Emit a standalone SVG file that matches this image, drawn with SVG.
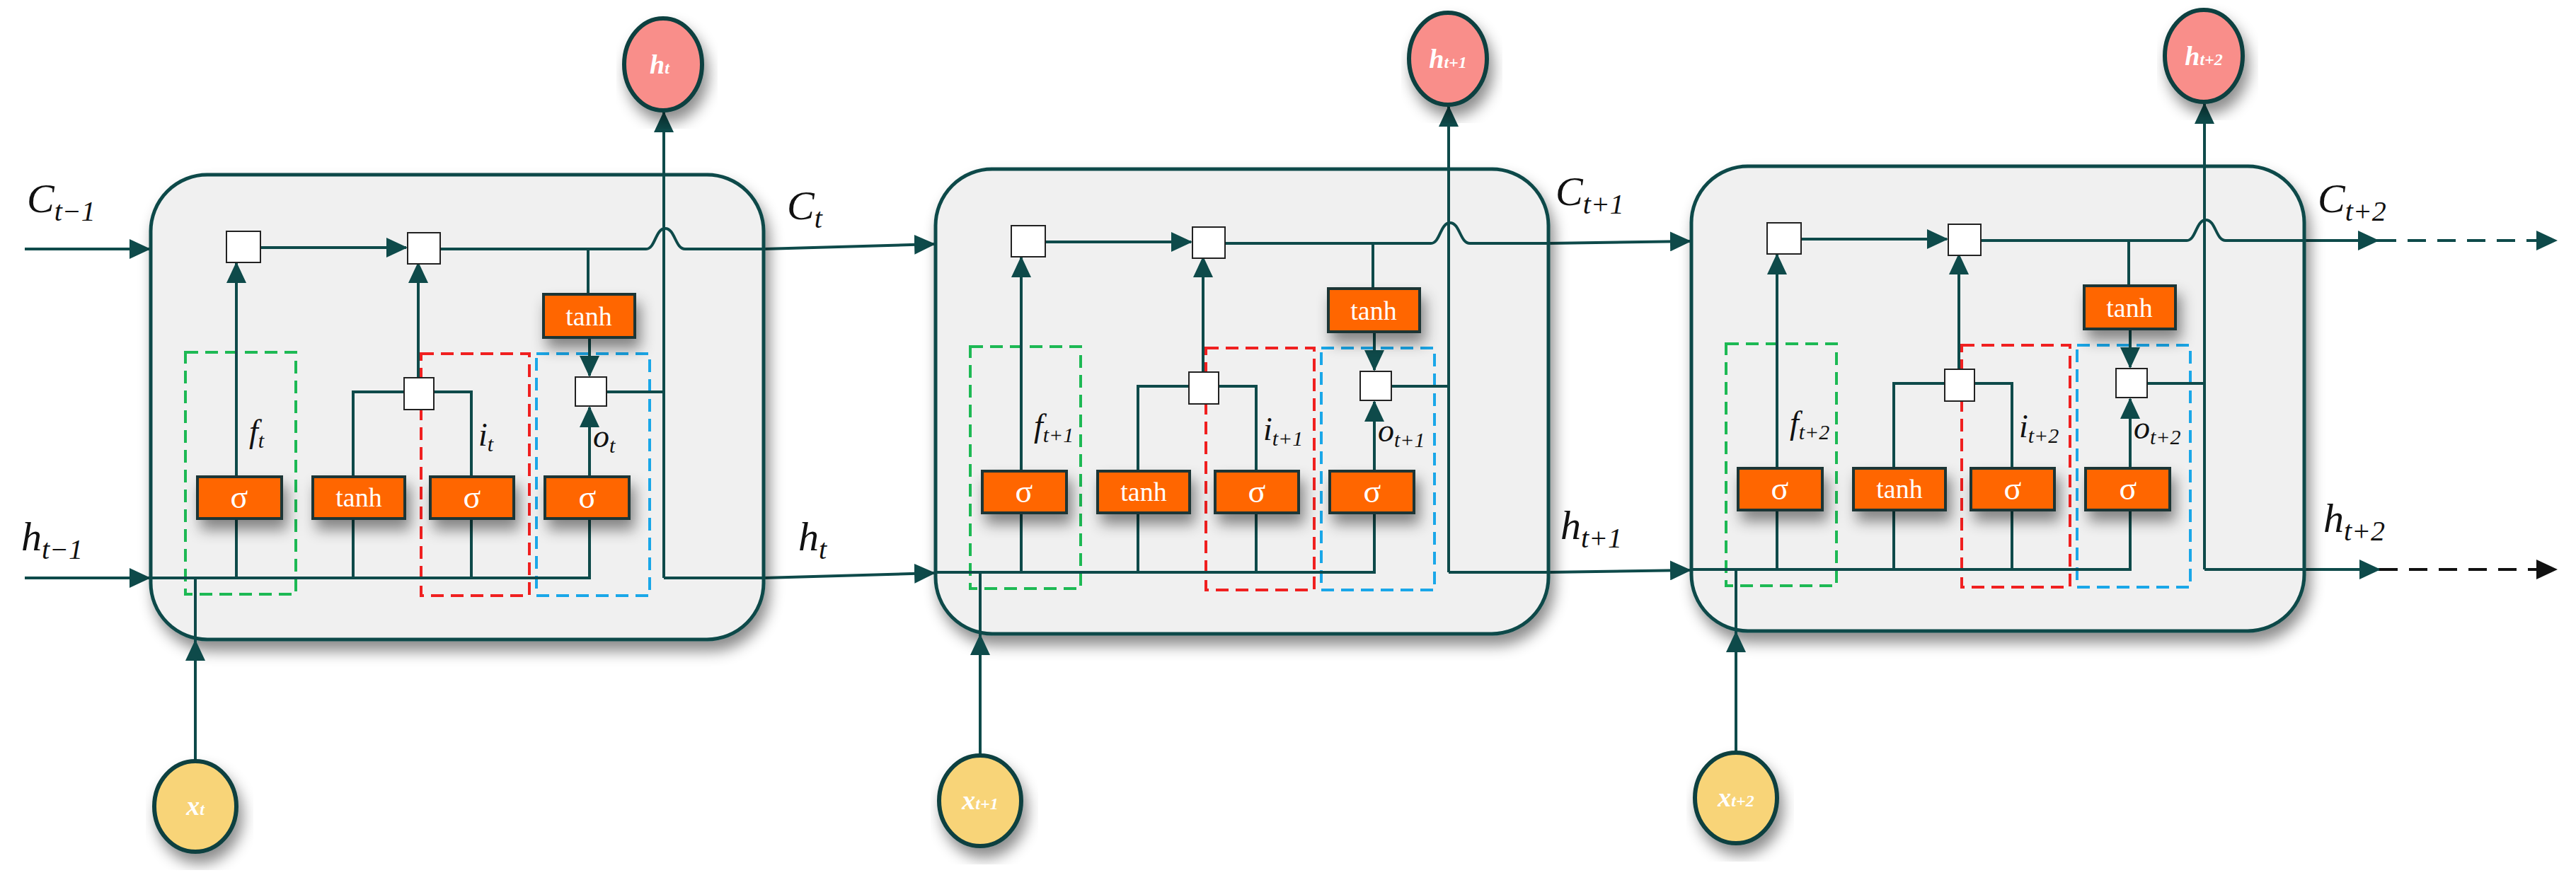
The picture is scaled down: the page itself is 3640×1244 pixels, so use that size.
<svg xmlns="http://www.w3.org/2000/svg" width="3640" height="1244" viewBox="0 0 3640 1244">
<style>
.ln{fill:none;stroke:#0e4a4a;stroke-width:4}
.cell{fill:#f0f0f0;stroke:#0e4a4a;stroke-width:5}
.op{fill:#ff6600;stroke:#1e3434;stroke-width:4}
.mul{fill:#fff;stroke:#222;stroke-width:2}
.g{fill:none;stroke:#1db954;stroke-width:4;stroke-dasharray:18 10}
.r{fill:none;stroke:#f02020;stroke-width:4;stroke-dasharray:18 10}
.b{fill:none;stroke:#1aa7e8;stroke-width:4;stroke-dasharray:18 10}
.ot{font-family:"Liberation Serif",serif;fill:#fff;text-anchor:middle}
.lb{font-family:"Liberation Serif",serif;font-style:italic;fill:#111}
.hc{fill:#f98e8a;stroke:#0e4040;stroke-width:6}
.xc{fill:#f8d478;stroke:#0e4040;stroke-width:6}
</style>
<defs>
<marker id="ar" markerUnits="userSpaceOnUse" markerWidth="30" markerHeight="28" refX="28" refY="14" orient="auto"><path d="M0,0 L30,14 L0,28 z" fill="#0e4a4a"/></marker>
<marker id="ak" markerUnits="userSpaceOnUse" markerWidth="30" markerHeight="28" refX="28" refY="14" orient="auto"><path d="M0,0 L30,14 L0,28 z" fill="#111"/></marker>
<filter id="sh" x="-10%" y="-10%" width="130%" height="130%"><feDropShadow dx="6" dy="14" stdDeviation="10" flood-color="#000" flood-opacity="0.45"/></filter>
<g id="cellT">
<rect class="cell" x="213" y="247" width="866" height="657" rx="80" filter="url(#sh)"/>
<rect class="g" x="262" y="498" width="156" height="342"/>
<rect class="r" x="595" y="500" width="153" height="342"/>
<rect class="b" x="758" y="500" width="160" height="342"/>
<g class="ln">
<path d="M213,817 H833 V733"/>
<path d="M334,817 V733"/><path d="M499,817 V733"/><path d="M666,817 V733"/>
<path d="M334,674 V372" marker-end="url(#ar)"/>
<path d="M499,674 V554 H571"/><path d="M666,674 V554 H613"/>
<path d="M591,534 V372" marker-end="url(#ar)"/>
<path d="M833,674 V576" marker-end="url(#ar)"/>
<path d="M831,353 V416"/><path d="M833,477 V531" marker-end="url(#ar)"/>
<path d="M369,350 H574" marker-end="url(#ar)"/>
<path d="M622,352 H913 C926,352 926,323 940,323 C954,323 954,352 968,352 H1079"/>
<path d="M857,554 H938"/>
<path d="M938,817 V159" marker-end="url(#ar)"/>
<path d="M938,817 H1079"/>
<path d="M276,1076 V817"/><path d="M276,960 V906" marker-end="url(#ar)"/>
</g>
<rect class="mul" x="320" y="327" width="48" height="44"/>
<rect class="mul" x="576" y="329" width="46" height="44"/>
<rect class="mul" x="571" y="534" width="42" height="45"/>
<rect class="mul" x="813" y="533" width="44" height="41"/>
<g filter="url(#sh)">
<rect class="op" x="279" y="674" width="119" height="59"/>
<rect class="op" x="442" y="674" width="130" height="59"/>
<rect class="op" x="608" y="674" width="118" height="59"/>
<rect class="op" x="770" y="674" width="119" height="59"/>
<rect class="op" x="768" y="416" width="129" height="61"/>
</g>
<text class="ot" x="338" y="718" font-size="46">σ</text>
<text class="ot" x="507" y="716" font-size="38">tanh</text>
<text class="ot" x="667" y="718" font-size="46">σ</text>
<text class="ot" x="830" y="718" font-size="46">σ</text>
<text class="ot" x="832" y="460" font-size="38">tanh</text>
<ellipse class="hc" cx="937" cy="91" rx="55" ry="65" filter="url(#sh)"/>
<ellipse class="xc" cx="276" cy="1140" rx="58" ry="64" filter="url(#sh)"/>
</g>
</defs>
<g class="ln" id="connectors">
<path d="M35,352 H211" marker-end="url(#ar)"/>
<path d="M35,817 H211" marker-end="url(#ar)"/>
<path d="M1079,352 L1320,345" marker-end="url(#ar)"/>
<path d="M1079,817 L1320,810" marker-end="url(#ar)"/>
<path d="M2188,344 L2388,341" marker-end="url(#ar)"/>
<path d="M2188,809 L2388,806" marker-end="url(#ar)"/>
<path d="M3256,340 H3360" marker-end="url(#ar)"/>
<path d="M3360,340 H3612" stroke-dasharray="26 16" marker-end="url(#ar)"/>
<path d="M3256,805 H3362" marker-end="url(#ar)"/>
<path d="M3362,805 H3612" stroke="#111" stroke-dasharray="26 16" marker-end="url(#ak)"/>
</g>
<g id="cell1"><use href="#cellT"/>
<text class="lb" x="352" y="625" font-size="46">f<tspan font-size="30" dy="8">t</tspan></text>
<text class="lb" x="676" y="630" font-size="46">i<tspan font-size="30" dy="8">t</tspan></text>
<text class="lb" x="838" y="632" font-size="46">o<tspan font-size="30" dy="8">t</tspan></text>
<text class="ot" x="932" y="104" font-size="38" font-style="italic" font-weight="bold">h<tspan font-size="24">t</tspan></text>
<text class="ot" x="276" y="1152" font-size="38" font-style="italic" font-weight="bold">x<tspan font-size="24">t</tspan></text>
</g>
<g id="cell2" transform="translate(1109,-8)"><use href="#cellT"/>
<text class="lb" x="352" y="625" font-size="46">f<tspan font-size="30" dy="8">t+1</tspan></text>
<text class="lb" x="676" y="630" font-size="46">i<tspan font-size="30" dy="8">t+1</tspan></text>
<text class="lb" x="838" y="632" font-size="46">o<tspan font-size="30" dy="8">t+1</tspan></text>
<text class="ot" x="937" y="104" font-size="38" font-style="italic" font-weight="bold">h<tspan font-size="24">t+1</tspan></text>
<text class="ot" x="276" y="1152" font-size="38" font-style="italic" font-weight="bold">x<tspan font-size="24">t+1</tspan></text>
</g>
<g id="cell3" transform="translate(2177,-12)"><use href="#cellT"/>
<text class="lb" x="352" y="625" font-size="46">f<tspan font-size="30" dy="8">t+2</tspan></text>
<text class="lb" x="676" y="630" font-size="46">i<tspan font-size="30" dy="8">t+2</tspan></text>
<text class="lb" x="838" y="632" font-size="46">o<tspan font-size="30" dy="8">t+2</tspan></text>
<text class="ot" x="937" y="104" font-size="38" font-style="italic" font-weight="bold">h<tspan font-size="24">t+2</tspan></text>
<text class="ot" x="276" y="1152" font-size="38" font-style="italic" font-weight="bold">x<tspan font-size="24">t+2</tspan></text>
</g>
<g id="labels" class="lb" font-size="58">
<text x="38" y="300">C<tspan font-size="40" dy="12">t−1</tspan></text>
<text x="30" y="778">h<tspan font-size="40" dy="12">t−1</tspan></text>
<text x="1112" y="310">C<tspan font-size="40" dy="12">t</tspan></text>
<text x="1128" y="778">h<tspan font-size="40" dy="12">t</tspan></text>
<text x="2198" y="290">C<tspan font-size="40" dy="12">t+1</tspan></text>
<text x="2205" y="762">h<tspan font-size="40" dy="12">t+1</tspan></text>
<text x="3275" y="300">C<tspan font-size="40" dy="12">t+2</tspan></text>
<text x="3283" y="752">h<tspan font-size="40" dy="12">t+2</tspan></text>
</g>
</svg>
